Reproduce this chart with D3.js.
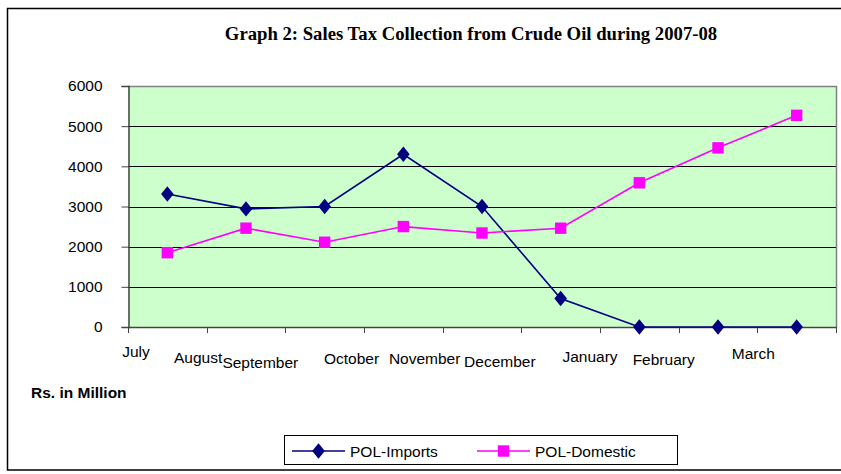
<!DOCTYPE html>
<html>
<head>
<meta charset="utf-8">
<script src="https://cdn.jsdelivr.net/npm/d3@7"></script>
<style>
  body { margin: 0; background: #fff; }
  svg { display: block; }
</style>
</head>
<body>
<div id="chart"></div>
<script>
// data
var months = ["July", "August", "September", "October", "November", "December", "January", "February", "March"];
var polImports = [3310, 2940, 3000, 4300, 3000, 710, 0, 0, 0];
var polDomestic = [1850, 2460, 2110, 2500, 2340, 2460, 3590, 4460, 5270];
var yTicks = [0, 1000, 2000, 3000, 4000, 5000, 6000];

// excel put the month labels in odd places, keep that look
var labelShift = [8, -8.5, -25, -12.5, -18, -21.5, -10, -15, -4];
var labelDrop = [30, 36, 41, 37, 37, 40, 35, 38, 32];

var width = 841, height = 474;
var plot = { left: 128, right: 836, top: 86, bottom: 327 };

var svg = d3.select("#chart").append("svg")
  .attr("width", width)
  .attr("height", height);

// outer frame
svg.append("path")
  .attr("d", "M845,8.5H7.5V470H845")
  .attr("fill", "none")
  .attr("stroke", "#000")
  .attr("stroke-width", 1.5);

svg.append("text")
  .attr("x", 471)
  .attr("y", 39.5)
  .attr("text-anchor", "middle")
  .style("font-family", "'Liberation Serif', 'Times New Roman', serif")
  .style("font-weight", "bold")
  .style("font-size", "18.7px")
  .text("Graph 2: Sales Tax Collection from Crude Oil during 2007-08");

var x = d3.scaleBand()
  .domain(months)
  .range([plot.left, plot.right])
  .padding(0);

var y = d3.scaleLinear()
  .domain([0, 6000])
  .range([plot.bottom, plot.top]);

// plot background
svg.append("rect")
  .attr("x", plot.left)
  .attr("y", plot.top)
  .attr("width", plot.right - plot.left)
  .attr("height", plot.bottom - plot.top)
  .attr("fill", "#ccffcc");

// gridlines
svg.append("g")
  .selectAll("line")
  .data(yTicks.filter(function (d) { return d > 0 && d < 6000; }))
  .enter().append("line")
  .attr("x1", plot.left)
  .attr("x2", plot.right)
  .attr("y1", function (d) { return Math.round(y(d)) + 0.5; })
  .attr("y2", function (d) { return Math.round(y(d)) + 0.5; })
  .attr("stroke", "#000")
  .attr("stroke-width", 1);

// top and right border of plot area
svg.append("path")
  .attr("d", "M" + plot.left + "," + (plot.top + 0.5) + "H" + (plot.right + 0.5) + "V" + plot.bottom)
  .attr("fill", "none")
  .attr("stroke", "#808080")
  .attr("stroke-width", 1.5);

var fontFamily = "'Liberation Sans', Arial, sans-serif";

// y axis
var yAxis = svg.append("g")
  .attr("transform", "translate(" + (plot.left + 0.5) + ",0)")
  .call(d3.axisLeft(y).tickValues(yTicks).tickSize(7).tickPadding(19).tickFormat(d3.format("d")));
yAxis.select(".domain").attr("stroke", "#444").attr("stroke-width", 1.5);
yAxis.selectAll(".tick line").attr("stroke", "#444");
yAxis.selectAll("text")
  .attr("fill", "#000")
  .style("font-family", fontFamily)
  .style("font-size", "15.5px");

// x axis: ticks on band edges
var edges = months.map(function (m) { return x(m); }).concat([plot.right]);
var xAxis = svg.append("g");
xAxis.append("line")
  .attr("x1", plot.left)
  .attr("x2", plot.right + 1)
  .attr("y1", plot.bottom + 0.5)
  .attr("y2", plot.bottom + 0.5)
  .attr("stroke", "#444")
  .attr("stroke-width", 1.5);
xAxis.selectAll(".xtick")
  .data(edges)
  .enter().append("line")
  .attr("class", "xtick")
  .attr("x1", function (d) { return Math.round(d) + 0.5; })
  .attr("x2", function (d) { return Math.round(d) + 0.5; })
  .attr("y1", plot.bottom)
  .attr("y2", plot.bottom + 6)
  .attr("stroke", "#444");
xAxis.selectAll(".xlabel")
  .data(months)
  .enter().append("text")
  .attr("class", "xlabel")
  .attr("x", function (d, i) { return x(d) + labelShift[i]; })
  .attr("y", function (d, i) { return plot.bottom + labelDrop[i]; })
  .attr("text-anchor", "middle")
  .style("font-family", fontFamily)
  .style("font-size", "15.5px")
  .text(function (d) { return d; });

svg.append("text")
  .attr("x", 31)
  .attr("y", 398)
  .style("font-family", fontFamily)
  .style("font-weight", "bold")
  .style("font-size", "15.5px")
  .text("Rs. in Million");

var series = [
  { name: "POL-Imports", values: polImports, color: "#000080", symbol: d3.symbolDiamond, size: 95, scaleX: 1.2, scaleY: 0.85 },
  { name: "POL-Domestic", values: polDomestic, color: "#ff00ff", symbol: d3.symbolSquare, size: 130, scaleX: 1, scaleY: 1 }
];

var line = d3.line()
  .x(function (d, i) { return x(months[i]) + x.bandwidth() / 2; })
  .y(function (d) { return y(d); });

series.forEach(function (s) {
  var g = svg.append("g");
  g.append("path")
    .datum(s.values)
    .attr("d", line)
    .attr("fill", "none")
    .attr("stroke", s.color)
    .attr("stroke-width", 1.6);
  g.selectAll("path.marker")
    .data(s.values)
    .enter().append("path")
    .attr("class", "marker")
    .attr("d", d3.symbol().type(s.symbol).size(s.size))
    .attr("transform", function (d, i) {
      return "translate(" + (x(months[i]) + x.bandwidth() / 2) + "," + y(d) + ") scale(" + s.scaleX + "," + s.scaleY + ")";
    })
    .attr("fill", s.color);
});

// legend
var legend = svg.append("g");
legend.append("rect")
  .attr("x", 284.5)
  .attr("y", 435.5)
  .attr("width", 393)
  .attr("height", 29)
  .attr("fill", "#fff")
  .attr("stroke", "#000")
  .attr("stroke-width", 1);

var legendX = [292, 477];
series.forEach(function (s, i) {
  var lx = legendX[i];
  legend.append("line")
    .attr("x1", lx)
    .attr("x2", lx + 53)
    .attr("y1", 451)
    .attr("y2", 451)
    .attr("stroke", s.color)
    .attr("stroke-width", 1.6);
  legend.append("path")
    .attr("d", d3.symbol().type(s.symbol).size(s.size))
    .attr("transform", "translate(" + (lx + 26.5) + ",451) scale(" + s.scaleX + "," + s.scaleY + ")")
    .attr("fill", s.color);
  legend.append("text")
    .attr("x", lx + 58)
    .attr("y", 456.5)
    .style("font-family", fontFamily)
    .style("font-size", "15.5px")
    .text(s.name);
});
</script>
</body>
</html>
